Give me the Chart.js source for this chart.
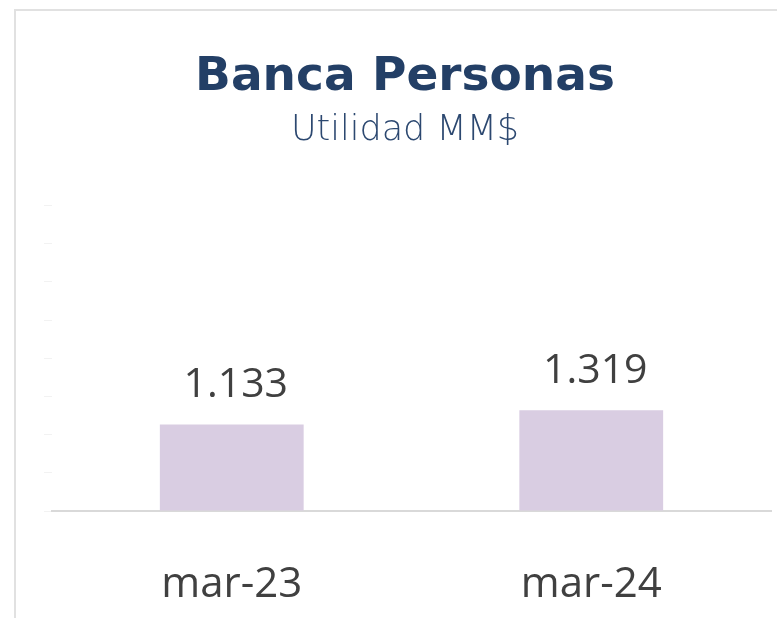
<!DOCTYPE html>
<html>
<head>
<meta charset="utf-8">
<script src="https://cdn.jsdelivr.net/npm/chart.js@4"></script>
<style>
  html, body { margin: 0; padding: 0; background: #fff; overflow: hidden; }
  .frame {
    position: absolute; left: 14px; top: 9px;
    width: 800px; height: 620px;
    border-left: 2px solid #e1e1e1; border-top: 2px solid #e1e1e1;
  }
  .wrap { position: absolute; left: 0; top: 0; width: 778px; height: 607px; }
</style>
</head>
<body>
<div class="frame"><div class="wrap"><canvas id="chart"></canvas></div></div>
<script>
const categories = ['mar-23', 'mar-24'];
const utilidad = [1133, 1319];
const yTicks = [0, 500, 1000, 1500, 2000, 2500, 3000, 3500, 4000];

// numbers like 1.133 (dot as thousands separator)
const fmt = v => v.toLocaleString('de-DE');

const valueLabels = {
    id: 'valueLabels',
    afterDatasetsDraw(chart) {
        const ctx = chart.ctx;
        const meta = chart.getDatasetMeta(0);
        ctx.save();
        ctx.font = '41px "Open Sans"';
        ctx.fillStyle = '#404040';
        ctx.textAlign = 'center';
        ctx.textBaseline = 'alphabetic';
        meta.data.forEach((bar, i) => {
            ctx.fillText(fmt(utilidad[i]), bar.x + 4, bar.y - 27);
        });
        ctx.restore();
    }
};

new Chart(document.getElementById('chart'), {
    type: 'bar',
    data: {
        labels: categories,
        datasets: [{
            label: 'Utilidad MM$',
            data: utilidad,
            backgroundColor: '#d9cde2',
            categoryPercentage: 0.8,
            barPercentage: 0.5
        }]
    },
    options: {
        responsive: true,
        maintainAspectRatio: false,
        animation: false,
        layout: { padding: { left: 23, right: 23, top: 0, bottom: 0 } },
        plugins: {
            legend: { display: false },
            tooltip: { enabled: false },
            title: {
                display: true,
                text: 'Banca Personas',
                color: '#233f66',
                font: { family: 'DejaVu Sans', size: 47, weight: 'bold' },
                padding: { top: 39, bottom: 4 }
            },
            subtitle: {
                display: true,
                text: 'Utilidad MM$',
                color: '#2c4870',
                font: { family: 'DejaVu Sans', size: 35, weight: '300' },
                padding: { top: 0, bottom: 53 }
            }
        },
        scales: {
            x: {
                grid: { display: false },
                border: { display: true, color: '#d9d9d9', width: 2 },
                afterFit: axis => { axis.height = 107; },
                ticks: {
                    color: '#404040',
                    padding: 41,
                    font: { family: 'Open Sans', size: 42 }
                }
            },
            y: {
                min: 0,
                max: 4000,
                afterBuildTicks: axis => { axis.ticks = yTicks.map(v => ({ value: v })); },
                afterFit: axis => { axis.width = 13; },
                border: { display: false },
                grid: { drawOnChartArea: false, drawTicks: true, tickLength: 8, color: '#f2f2f2' },
                ticks: { display: false }
            }
        }
    },
    plugins: [valueLabels]
});
</script>
</body>
</html>
